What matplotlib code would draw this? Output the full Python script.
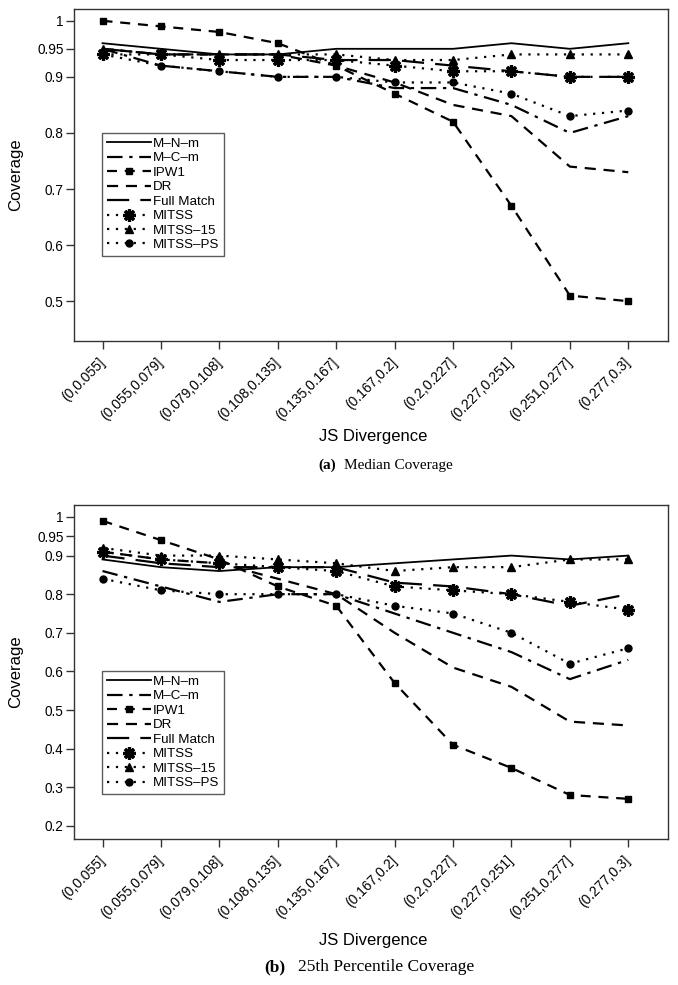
import matplotlib
matplotlib.use('Agg')
import matplotlib.pyplot as plt
from matplotlib.transforms import blended_transform_factory

plt.rcParams['font.family'] = ['Liberation Sans', 'DejaVu Sans']

categories = ["(0,0.055]", "(0.055,0.079]", "(0.079,0.108]", "(0.108,0.135]",
              "(0.135,0.167]", "(0.167,0.2]", "(0.2,0.227]", "(0.227,0.251]",
              "(0.251,0.277]", "(0.277,0.3]"]
methods = ["M–N–m", "M–C–m", "IPW1", "DR", "Full Match", "MITSS", "MITSS–15", "MITSS–PS"]

# (a) Median coverage
med_mnm   = [0.96, 0.95, 0.94, 0.94, 0.95, 0.95, 0.95, 0.96, 0.95, 0.96]
med_mcm   = [0.95, 0.92, 0.91, 0.90, 0.90, 0.88, 0.88, 0.85, 0.80, 0.83]
med_ipw1  = [1.00, 0.99, 0.98, 0.96, 0.92, 0.87, 0.82, 0.67, 0.51, 0.50]
med_dr    = [0.95, 0.94, 0.94, 0.94, 0.92, 0.89, 0.85, 0.83, 0.74, 0.73]
med_full  = [0.95, 0.94, 0.94, 0.94, 0.93, 0.93, 0.92, 0.91, 0.90, 0.90]
med_mitss = [0.94, 0.94, 0.93, 0.93, 0.93, 0.92, 0.91, 0.91, 0.90, 0.90]
med_m15   = [0.95, 0.94, 0.94, 0.94, 0.94, 0.93, 0.93, 0.94, 0.94, 0.94]
med_mps   = [0.94, 0.92, 0.91, 0.90, 0.90, 0.89, 0.89, 0.87, 0.83, 0.84]

# (b) 25th percentile coverage
p25_mnm   = [0.89, 0.87, 0.86, 0.87, 0.87, 0.88, 0.89, 0.90, 0.89, 0.90]
p25_mcm   = [0.86, 0.82, 0.78, 0.80, 0.80, 0.75, 0.70, 0.65, 0.58, 0.63]
p25_ipw1  = [0.99, 0.94, 0.89, 0.82, 0.77, 0.57, 0.41, 0.35, 0.28, 0.27]
p25_dr    = [0.91, 0.89, 0.88, 0.84, 0.80, 0.70, 0.61, 0.56, 0.47, 0.46]
p25_full  = [0.90, 0.88, 0.87, 0.87, 0.87, 0.83, 0.82, 0.80, 0.77, 0.80]
p25_mitss = [0.91, 0.89, 0.88, 0.87, 0.86, 0.82, 0.81, 0.80, 0.78, 0.76]
p25_m15   = [0.92, 0.90, 0.90, 0.89, 0.88, 0.86, 0.87, 0.87, 0.89, 0.89]
p25_mps   = [0.84, 0.81, 0.80, 0.80, 0.80, 0.77, 0.75, 0.70, 0.62, 0.66]

yticks_a = [0.5, 0.6, 0.7, 0.8, 0.9, 0.95, 1.0]
yticklabels_a = ["0.5", "0.6", "0.7", "0.8", "0.9", "0.95", "1"]
yticks_b = [0.2, 0.3, 0.4, 0.5, 0.6, 0.7, 0.8, 0.9, 0.95, 1.0]
yticklabels_b = ["0.2", "0.3", "0.4", "0.5", "0.6", "0.7", "0.8", "0.9", "0.95", "1"]

data_a = [med_mnm, med_mcm, med_ipw1, med_dr, med_full, med_mitss, med_m15, med_mps]
data_b = [p25_mnm, p25_mcm, p25_ipw1, p25_dr, p25_full, p25_mitss, p25_m15, p25_mps]

styles = [
    dict(ls='-', lw=1.3),
    dict(ls=(0, (7, 3, 1.5, 3)), lw=1.6),
    dict(ls=(0, (4.5, 3.5)), lw=1.6, marker='s', ms=4.5),
    dict(ls=(0, (5, 3.5)), lw=1.6),
    dict(ls=(0, (10, 5)), lw=1.6),
    dict(ls=(0, (1, 3)), lw=1.6, marker=(8, 2, 0), ms=9, mew=2.3),
    dict(ls=(0, (1, 3)), lw=1.6, marker='^', ms=6),
    dict(ls=(0, (1, 3)), lw=1.6, marker='o', ms=5),
]

W, H = 678, 985
fig = plt.figure(figsize=(W / 100, H / 100), dpi=100)


def fx(px):
    return px / W


def fy(py):
    return 1 - py / H


def make_panel(top_px, bot_px, data, ylim, yticks, yticklabels, leg_top):
    ax = fig.add_axes([fx(74), fy(bot_px), fx(668) - fx(74), fy(top_px) - fy(bot_px)])
    x = list(range(len(categories)))
    for name, vals, st in zip(methods, data, styles):
        ax.plot(x, vals, color='black', label=name, **st)
    ax.set_xlim(-0.488, 9.68)
    ax.set_ylim(*ylim)
    ax.set_xticks(x)
    ax.set_xticklabels(categories, rotation=45, ha='right', va='center',
                       rotation_mode='anchor', fontsize=10)
    ax.set_yticks(yticks)
    ax.set_yticklabels(yticklabels, fontsize=9.8)
    ax.tick_params(axis='x', direction='out', length=5.8, width=1, pad=8, color='#333333')
    ax.tick_params(axis='y', direction='out', length=5.5, width=1, pad=2, color='#333333')
    for s in ax.spines.values():
        s.set_color('#333333')
        s.set_linewidth(1.0)
    ax.set_ylabel('Coverage', fontsize=12)
    trans = blended_transform_factory(fig.transFigure, ax.transAxes)
    ax.yaxis.set_label_coords(fx(23), 0.5, transform=trans)
    leg = ax.legend(loc='upper left', bbox_to_anchor=(0.047, leg_top), fontsize=9.6,
                    frameon=True, fancybox=False, edgecolor='#333333',
                    handlelength=3.3, handletextpad=0.15, labelspacing=0.16,
                    borderpad=0.35, borderaxespad=0, numpoints=1)
    leg.get_frame().set_linewidth(1.0)
    return ax


ax1 = make_panel(9, 341, data_a, (0.429, 1.021), yticks_a, yticklabels_a, 0.627)
ax2 = make_panel(505, 839, data_b, (0.166, 1.031), yticks_b, yticklabels_b, 0.503)

fig.text(fx(373), fy(437), 'JS Divergence', ha='center', va='center', fontsize=12)
fig.text(fx(373), fy(940), 'JS Divergence', ha='center', va='center', fontsize=12)

fig.text(fx(318), fy(465), '(a)', ha='left', va='center', fontsize=11,
         family='Liberation Serif', weight='bold')
fig.text(fx(344), fy(465), 'Median Coverage', ha='left', va='center', fontsize=11,
         family='Liberation Serif')
fig.text(fx(264), fy(967), '(b)', ha='left', va='center', fontsize=12.5,
         family='Liberation Serif', weight='bold')
fig.text(fx(298), fy(967), '25th Percentile Coverage', ha='left', va='center', fontsize=12.5,
         family='Liberation Serif')

fig.savefig('out.png', dpi=100)
